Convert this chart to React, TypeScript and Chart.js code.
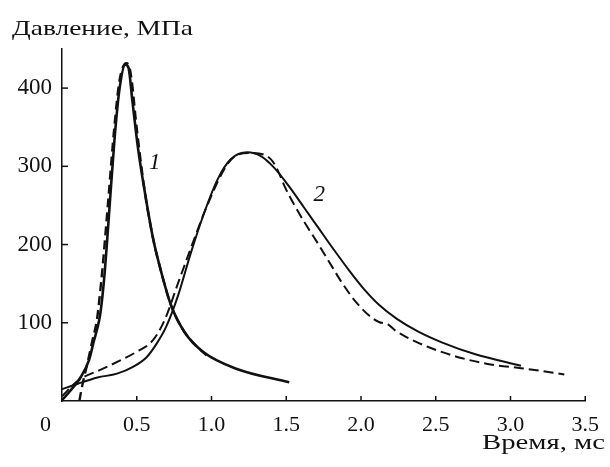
import React, { useEffect, useRef } from "react";
import { Chart, registerables } from "chart.js";

Chart.register(...registerables);

// ---- data (time in ms, pressure in MPa) ----
const curve1SolidTime = [0, 0.06, 0.127, 0.18, 0.215, 0.235, 0.255, 0.27, 0.285, 0.30, 0.318, 0.351, 0.384, 0.424, 0.445, 0.47, 0.51, 0.555, 0.61, 0.665, 0.73, 0.82, 0.95, 1.17, 1.52];
const curve1SolidPressure = [1, 14, 31, 52, 78, 92, 110, 133, 163, 200, 248, 334, 398, 430, 426, 385, 321, 266, 207, 164, 122, 88, 62, 41, 24];

const curve1DashTime = [0.116, 0.138, 0.17, 0.204, 0.233, 0.25, 0.27, 0.31, 0.35, 0.385, 0.43, 0.452, 0.47, 0.49, 0.517, 0.555, 0.61, 0.665, 0.73, 0.82, 0.91, 0.99];
const curve1DashPressure = [0, 22, 48, 78, 103, 130, 168, 258, 350, 410, 432, 426, 404, 366, 321, 266, 207, 164, 122, 88, 68, 55];

const curve2SolidTime = [0, 0.105, 0.237, 0.368, 0.478, 0.566, 0.632, 0.697, 0.775, 0.863, 0.952, 1.04, 1.128, 1.24, 1.33, 1.42, 1.52, 1.62, 1.72, 1.82, 1.92, 2.02, 2.12, 2.24, 2.38, 2.54, 2.76, 3.07];
const curve2SolidPressure = [15, 22, 30, 35, 44, 56, 73, 95, 134, 190, 241, 283, 309, 318, 313, 298, 274, 247, 220, 193, 167, 143, 123, 105, 89, 75, 60, 45];

const curve2DashTime = [0, 0.1, 0.15, 0.26, 0.39, 0.5, 0.61, 0.69, 0.775, 0.863, 0.952, 1.084, 1.15, 1.25, 1.35, 1.41, 1.45, 1.49, 1.55, 1.62, 1.70, 1.78, 1.87, 1.96, 2.05, 2.12, 2.18, 2.23, 2.3, 2.45, 2.67, 2.89, 3.07, 3.36];
const curve2DashPressure = [6, 25, 31, 40, 52, 63, 78, 105, 150, 196, 241, 296, 312, 317, 315, 306, 292, 274, 252, 229, 205, 180, 152, 128, 110, 101, 98, 90, 82, 69, 55, 46, 42, 34];

const xTicks = [0, 0.5, 1.0, 1.5, 2.0, 2.5, 3.0, 3.5];
const xTickLabels = ["0\u2007\u2007\u2007", "0.5", "1.0", "1.5", "2.0", "2.5", "3.0", "3.5"];
const yTicks = [100, 200, 300, 400];
const yTickLabels = ["100", "200", "300", "400"];

const curveNames = ["1", "2"];
const curveNameTime = [0.62, 1.72];
const curveNamePressure = [304, 264];

const yTitle = "Давление, МПа";
const xTitle = "Время, мс";

const FONT = "'Liberation Serif', 'Times New Roman', serif";

function pts(t: number[], p: number[]) {
  return t.map((x, i) => ({ x, y: p[i] }));
}

const decorPlugin = {
  id: "decor",
  afterDraw(chart: any) {
    const ctx = chart.ctx;
    const xs = chart.scales.x;
    const ys = chart.scales.y;
    const area = chart.chartArea;
    ctx.save();
    ctx.strokeStyle = "#111";
    ctx.lineWidth = 1.5;
    // inner tick marks
    yTicks.forEach((v) => {
      const py = ys.getPixelForValue(v);
      ctx.beginPath();
      ctx.moveTo(area.left, py);
      ctx.lineTo(area.left + 6, py);
      ctx.stroke();
    });
    xTicks.forEach((v) => {
      if (v === 0) return;
      const px = xs.getPixelForValue(v);
      ctx.beginPath();
      ctx.moveTo(px, area.bottom);
      ctx.lineTo(px, area.bottom - 5);
      ctx.stroke();
    });
    ctx.fillStyle = "#111";
    // curve numbers
    ctx.font = `italic 23px ${FONT}`;
    ctx.textAlign = "center";
    ctx.textBaseline = "middle";
    curveNames.forEach((n, i) => {
      ctx.fillText(n, xs.getPixelForValue(curveNameTime[i]), ys.getPixelForValue(curveNamePressure[i]));
    });
    // titles
    ctx.font = `21px ${FONT}`;
    ctx.textAlign = "left";
    ctx.textBaseline = "alphabetic";
    const drawStretched = (txt: string, x: number, y: number, w: number) => {
      const m = ctx.measureText(txt).width;
      ctx.save();
      ctx.translate(x, y);
      ctx.scale(w / m, 1);
      ctx.fillText(txt, 0, 0);
      ctx.restore();
    };
    drawStretched(yTitle, 12, 35, 181);
    drawStretched(xTitle, 482, 449, 123);
    ctx.restore();
  },
};

export default function App() {
  const ref = useRef<HTMLCanvasElement | null>(null);
  useEffect(() => {
    if (!ref.current) return;
    const lineBase = {
      borderColor: "#111",
      pointRadius: 0,
      fill: false,
      cubicInterpolationMode: "monotone" as const,
    };
    const chart = new Chart(ref.current, {
      type: "line",
      data: {
        datasets: [
          { ...lineBase, label: "1", data: pts(curve1SolidTime, curve1SolidPressure), borderWidth: 2.6 },
          { ...lineBase, label: "1 dashed", data: pts(curve1DashTime, curve1DashPressure), borderWidth: 2.4, borderDash: [9, 5] },
          { ...lineBase, label: "2", data: pts(curve2SolidTime, curve2SolidPressure), borderWidth: 2 },
          { ...lineBase, label: "2 dashed", data: pts(curve2DashTime, curve2DashPressure), borderWidth: 2, borderDash: [10, 5] },
        ],
      },
      options: {
        animation: false,
        responsive: false,
        layout: { padding: { top: 49, right: 21, left: 0, bottom: 0 } },
        plugins: { legend: { display: false }, tooltip: { enabled: false }, title: { display: false } },
        scales: {
          x: {
            type: "linear",
            min: 0,
            max: 3.5,
            afterFit: (s: any) => { s.height = 66; },
            afterBuildTicks: (s: any) => { s.ticks = xTicks.map((v) => ({ value: v })); },
            grid: { display: false, drawTicks: false },
            border: { display: true, color: "#111", width: 1.5 },
            ticks: {
              color: "#111",
              font: { family: FONT, size: 22 },
              padding: 11,
              maxRotation: 0,
              autoSkip: false,
              callback: (v: any) => { const i = xTicks.indexOf(Number(v)); return i >= 0 ? xTickLabels[i] : ""; },
            },
          },
          y: {
            type: "linear",
            min: 0,
            max: 450,
            afterFit: (s: any) => { s.width = 62; },
            afterBuildTicks: (s: any) => { s.ticks = yTicks.map((v) => ({ value: v })); },
            grid: { display: false, drawTicks: false },
            border: { display: true, color: "#111", width: 1.5 },
            ticks: {
              color: "#111",
              font: { family: FONT, size: 23 },
              padding: 10,
              autoSkip: false,
              callback: (v: any) => { const i = yTicks.indexOf(Number(v)); return i >= 0 ? yTickLabels[i] : ""; },
            },
          },
        },
      },
      plugins: [decorPlugin],
    });
    return () => chart.destroy();
  }, []);
  return (
    <div style={{ position: "absolute", left: 0, top: 0, width: 610, height: 467, background: "#fff" }}>
      <canvas ref={ref} width={610} height={467} style={{ display: "block" }} />
    </div>
  );
}
